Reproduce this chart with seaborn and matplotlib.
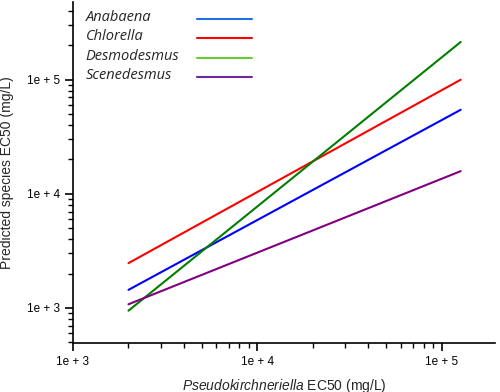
import numpy as np
import pandas as pd
import seaborn as sns
import matplotlib.pyplot as plt
from matplotlib.ticker import FuncFormatter, FixedLocator, NullFormatter

# fitted lines (endpoints, log-log straight lines)
species = ["Anabaena", "Chlorella", "Desmodesmus", "Scenedesmus"]
x_ends = [2000, 127000]
y_anabaena = [1440, 54500]
y_chlorella = [2470, 100000]
y_desmodesmus = [946, 214000]
y_scenedesmus = [1077, 15800]

line_colors = ["#0000ff", "#ff0000", "#007f00", "#800080"]
legend_colors = ["#1f6fe0", "#ff0000", "#66cc33", "#6a2a9a"]

rows = []
for name, ys in zip(species, [y_anabaena, y_chlorella, y_desmodesmus, y_scenedesmus]):
    for x, y in zip(x_ends, ys):
        rows.append({"species": name, "x": x, "y": y})
df = pd.DataFrame(rows)

sns.set_style("ticks")
plt.rcParams["font.family"] = ["Liberation Sans", "DejaVu Sans"]
plt.rcParams["mathtext.fontset"] = "custom"
plt.rcParams["mathtext.rm"] = "Liberation Sans"
plt.rcParams["mathtext.it"] = "Liberation Sans:italic"

fig, ax = plt.subplots(figsize=(5, 3.92), dpi=100)
fig.subplots_adjust(left=0.146, right=0.99, bottom=0.125, top=0.995)

sns.lineplot(data=df, x="x", y="y", hue="species", palette=dict(zip(species, line_colors)),
             linewidth=1.5, legend=False, ax=ax)

ax.set_xscale("log")
ax.set_yscale("log")
ax.set_xlim(1000, 195000)
ax.set_ylim(493, 480000)

major = [10.0 ** d for d in range(2, 7)]
minor = [m * 10.0 ** d for d in range(2, 6) for m in range(2, 10)]
fmt = FuncFormatter(lambda v, p: "1e + %d" % round(np.log10(v)))
for axis in [ax.xaxis, ax.yaxis]:
    axis.set_major_locator(FixedLocator(major))
    axis.set_major_formatter(fmt)
    axis.set_minor_locator(FixedLocator(minor))
    axis.set_minor_formatter(NullFormatter())

for s in ["left", "bottom"]:
    ax.spines[s].set_color("black")
    ax.spines[s].set_linewidth(1.2)
sns.despine(ax=ax)

ax.tick_params(which="both", bottom=True, left=True, top=False, right=False,
               direction="out", color="black")
ax.tick_params(which="major", length=6, width=1.2, labelsize=8.5, labelcolor="black")
ax.tick_params(which="minor", length=3.5, width=1)

ax.set_xlabel("$\\it{Pseudokirchneriella}$ EC50 (mg/L)", fontsize=10, labelpad=6)
ax.set_ylabel("Predicted species EC50 (mg/L)", fontsize=10, labelpad=9)

# legend drawn as text labels with line samples to the right
for i, (name, c) in enumerate(zip(species, legend_colors)):
    yy = 0.955 - i * 0.057
    ax.text(0.03, yy, name, transform=ax.transAxes, fontsize=10.5, style="italic",
            family=["Open Sans", "DejaVu Sans"], va="center", ha="left")
    ax.plot([0.293, 0.424], [yy - 0.005, yy - 0.005], transform=ax.transAxes, color=c, lw=1.5)

plt.savefig("out.png", dpi=100)
plt.close()
